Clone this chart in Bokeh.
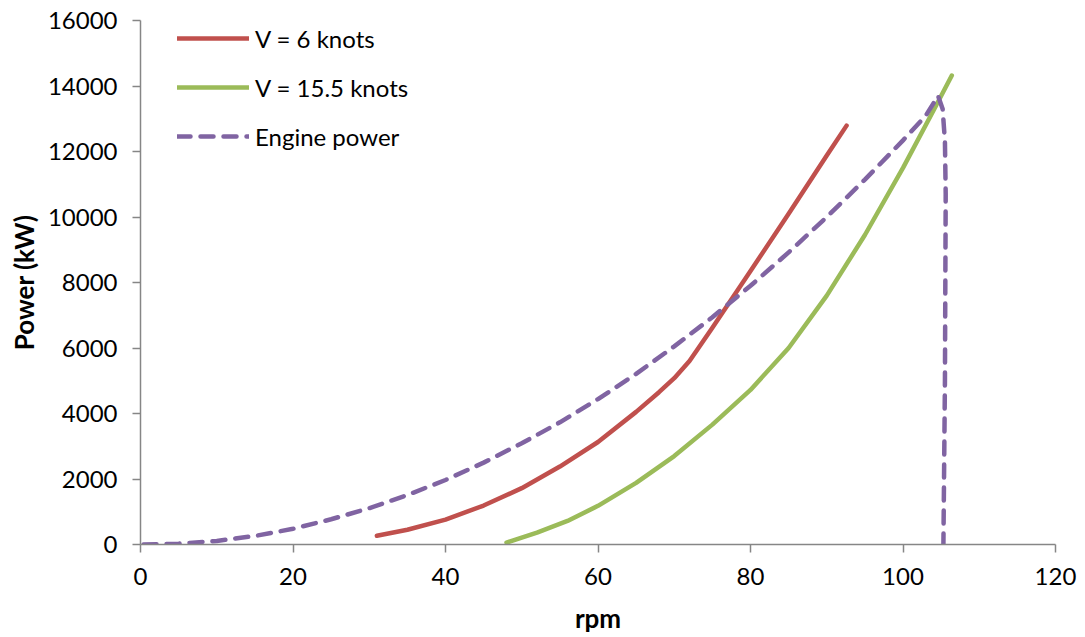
from bokeh.plotting import figure
from bokeh.models import Range1d, Legend, LegendItem
from bokeh.embed import file_html
from bokeh.resources import INLINE

# Data
v6_rpm = [31, 35, 40, 45, 50, 55, 60, 65, 68, 70, 72, 75, 80, 85, 90, 92.6]
v6_kw = [266, 450, 760, 1190, 1720, 2380, 3130, 4050, 4650, 5080, 5600, 6620, 8350, 10100, 11880, 12790]

v155_rpm = [48, 52, 56, 60, 65, 70, 75, 80, 85, 90, 95, 100, 104, 106.4]
v155_kw = [60, 360, 720, 1180, 1880, 2700, 3660, 4720, 6000, 7600, 9450, 11500, 13250, 14320]

engine_rpm = [0.4, 5, 10, 15, 20, 25, 30, 35, 40, 45, 50, 55, 60, 65, 70, 75, 80, 85, 90, 95,
              100, 103, 104.6, 105.2, 105.5, 105.6, 105.5, 105.3]
engine_kw = [0, 25, 110, 260, 480, 770, 1110, 1510, 1970, 2500, 3090, 3730, 4440, 5210, 6050,
             6940, 7900, 8920, 10000, 11140, 12340, 13100, 13700, 13300, 12300, 10700, 5000, 0]

x_ticks = [0, 20, 40, 60, 80, 100, 120]
y_ticks = [0, 2000, 4000, 6000, 8000, 10000, 12000, 14000, 16000]

RED = "#C0504D"
GREEN = "#9BBB59"
PURPLE = "#8064A2"
AXIS = "#868686"
FONT = "Lato"

p = figure(width=1085, height=637, output_backend="svg", toolbar_location=None,
           x_range=Range1d(0, 120), y_range=Range1d(0, 16000),
           min_border_left=140, min_border_right=30, min_border_top=20, min_border_bottom=93)
p.outline_line_color = None
p.xgrid.grid_line_color = None
p.ygrid.grid_line_color = None
p.background_fill_color = "white"
p.border_fill_color = "white"

r1 = p.line(v6_rpm, v6_kw, line_color=RED, line_width=4.5, line_cap="round", line_join="round")
r2 = p.line(v155_rpm, v155_kw, line_color=GREEN, line_width=4.5, line_cap="round", line_join="round")
r3 = p.line(engine_rpm, engine_kw, line_color=PURPLE, line_width=4.5, line_dash="13 10",
            line_cap="round", line_join="round")

for ax in (p.xaxis[0], p.yaxis[0]):
    ax.axis_line_color = AXIS
    ax.axis_line_width = 1.5
    ax.major_tick_line_color = AXIS
    ax.major_tick_line_width = 1.5
    ax.major_tick_out = 8
    ax.major_tick_in = 0
    ax.minor_tick_line_color = None
    ax.major_label_text_font = FONT
    ax.major_label_text_font_size = "24px"
    ax.major_label_text_color = "black"
    ax.axis_label_text_font = FONT
    ax.axis_label_text_font_size = "26px"
    ax.axis_label_text_font_style = "bold"
    ax.axis_label_text_color = "black"

p.xaxis.ticker = x_ticks
p.yaxis.ticker = y_ticks
p.xaxis.axis_label = "rpm"
p.yaxis.axis_label = "Power (kW)"
p.xaxis.major_label_standoff = 15
p.yaxis.major_label_standoff = 15
p.xaxis.axis_label_standoff = 14
p.yaxis.axis_label_standoff = 5

legend = Legend(items=[LegendItem(label="V = 6 knots", renderers=[r1]),
                       LegendItem(label="V = 15.5 knots", renderers=[r2]),
                       LegendItem(label="Engine power", renderers=[r3])],
                location=(37, 393), padding=0, margin=0, spacing=19,
                glyph_width=72, glyph_height=30, label_height=30, label_standoff=6,
                label_text_font=FONT, label_text_font_size="24px", label_text_color="black",
                border_line_color=None, background_fill_alpha=0)
p.add_layout(legend, "center")

open("out.html", "w").write(file_html(p, INLINE))
